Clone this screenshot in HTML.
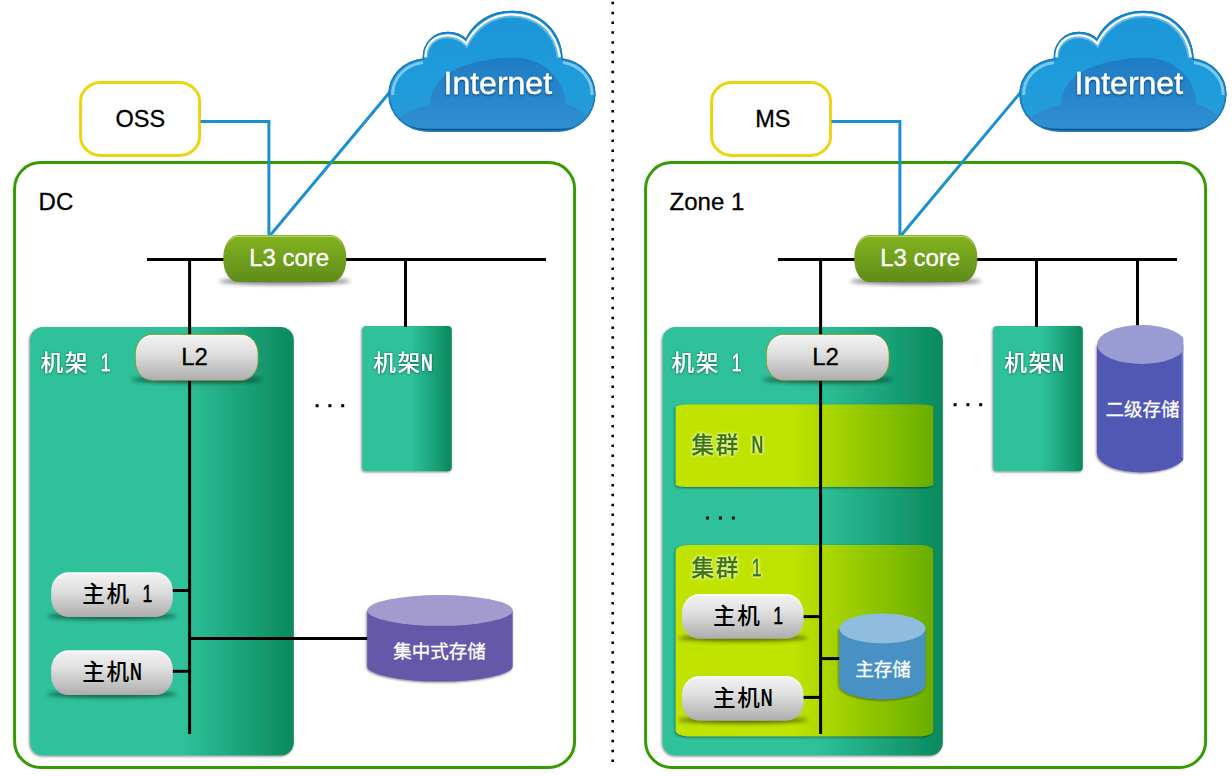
<!DOCTYPE html>
<html lang="zh-CN">
<head>
<meta charset="utf-8">
<title>DC / Zone network topology</title>
<style>
html,body{margin:0;padding:0;background:#fff;}
body{width:1232px;height:777px;overflow:hidden;font-family:"Liberation Sans", "Noto Sans CJK SC", sans-serif;}
svg{display:block;}
</style>
</head>
<body>
<svg width="1232" height="777" viewBox="0 0 1232 777">
<defs>
<filter id="b2" x="-20%" y="-200%" width="140%" height="500%"><feGaussianBlur stdDeviation="2.1"/></filter>
<filter id="b05" x="-10%" y="-10%" width="120%" height="120%"><feGaussianBlur stdDeviation="0.5"/></filter>
<filter id="ds" x="-5%" y="-5%" width="110%" height="110%"><feDropShadow dx="-0.8" dy="1" stdDeviation="1.1" flood-color="#1a0010" flood-opacity="0.5"/></filter>
<filter id="ts" x="-10%" y="-20%" width="120%" height="140%"><feDropShadow dx="0" dy="0.5" stdDeviation="1.2" flood-color="#044a32" flood-opacity="0.9"/></filter>
<filter id="tg" x="-10%" y="-25%" width="120%" height="150%"><feGaussianBlur in="SourceAlpha" stdDeviation="1.5" result="b"/><feFlood flood-color="#f3ffb4"/><feComposite in2="b" operator="in" result="g"/><feMerge><feMergeNode in="g"/><feMergeNode in="g"/><feMergeNode in="SourceGraphic"/></feMerge></filter>
<filter id="tc" x="-10%" y="-20%" width="120%" height="150%"><feDropShadow dx="0" dy="1.2" stdDeviation="1.1" flood-color="#062f55" flood-opacity="0.75"/></filter>
<linearGradient id="gL3" x1="0" y1="0" x2="0" y2="1"><stop offset="0" stop-color="#84b41f"/><stop offset="1" stop-color="#5e8c1b"/></linearGradient>
<linearGradient id="gL3hl" x1="0" y1="0" x2="0" y2="1"><stop offset="0" stop-color="#b4d868" stop-opacity="0.9"/><stop offset="0.25" stop-color="#b4d868" stop-opacity="0"/><stop offset="1" stop-color="#b4d868" stop-opacity="0"/></linearGradient>
<linearGradient id="gGrey" x1="0" y1="0" x2="0" y2="1"><stop offset="0" stop-color="#f3f3f3"/><stop offset="0.4" stop-color="#e0e0e0"/><stop offset="1" stop-color="#adadad"/></linearGradient>
<linearGradient id="gGreyhl" x1="0" y1="0" x2="0" y2="1"><stop offset="0" stop-color="#fff" stop-opacity="0.9"/><stop offset="0.3" stop-color="#fff" stop-opacity="0"/><stop offset="1" stop-color="#fff" stop-opacity="0"/></linearGradient>
<linearGradient id="gRackL" x1="0" y1="0" x2="1" y2="0"><stop offset="0" stop-color="#2ec19a"/><stop offset="0.58" stop-color="#2ec19a"/><stop offset="1" stop-color="#0b895d"/></linearGradient>
<linearGradient id="gRackR" x1="0" y1="0" x2="1" y2="0"><stop offset="0" stop-color="#2ec19a"/><stop offset="0.55" stop-color="#2ec19a"/><stop offset="1" stop-color="#0b895d"/></linearGradient>
<linearGradient id="gRackN" x1="0" y1="0" x2="1" y2="0"><stop offset="0" stop-color="#2ec19a"/><stop offset="0.55" stop-color="#2ec19a"/><stop offset="1" stop-color="#0b895d"/></linearGradient>
<linearGradient id="gClu" x1="0" y1="0" x2="1" y2="0"><stop offset="0" stop-color="#c0e400"/><stop offset="0.46" stop-color="#bfe300"/><stop offset="1" stop-color="#69ae00"/></linearGradient>
<linearGradient id="gCloud" x1="0" y1="0" x2="0" y2="1"><stop offset="0" stop-color="#1b96d8"/><stop offset="0.6" stop-color="#1f9cdb"/><stop offset="1" stop-color="#2a9bd8"/></linearGradient>
<linearGradient id="gCloudIn" gradientUnits="userSpaceOnUse" x1="0" y1="58" x2="0" y2="131"><stop offset="0" stop-color="#1f7cc5"/><stop offset="1" stop-color="#2f90d0"/></linearGradient>
<clipPath id="cloudClip"><path d="M429 131 C405 131 389 114 389 94 C389 76 403 61.5 423.5 59 C422.5 44 433 32.5 448 32.5 C455 32.5 461.5 35 466 39.5 C474 22 491 11.5 512 11.5 C540 11.5 561 31 562 59 C581 61.5 594.8 76 594.8 94 C594.8 114 579 131 558 131 Z"/></clipPath>
<clipPath id="clipSec"><rect x="1090" y="320" width="93.3" height="160"/></clipPath>
</defs>
<rect width="1232" height="777" fill="#fff"/>
<path d="M612.7 1.8 V762" stroke="#000" stroke-width="2.6" stroke-dasharray="2.5 7.34" fill="none"/>
<g id="left">
<rect x="14.6" y="162.6" width="560" height="604.8" rx="26" fill="#fff" stroke="#369a05" stroke-width="3"/>
<rect x="80.6" y="82.5" width="119" height="73" rx="20.5" ry="19" fill="#fff" stroke="#edd410" stroke-width="3"/>
<text x="140.3" y="127" font-size="23.5" text-anchor="middle" font-family='"Liberation Sans", "Noto Sans CJK SC", sans-serif' fill="#000" stroke="#000" stroke-width="0.3">OSS</text>
<path d="M200.5 121.5 H268.9 V238" fill="none" stroke="#1b90d0" stroke-width="3"/>
<path d="M269.2 236.5 L392 89.5" fill="none" stroke="#1b90d0" stroke-width="3"/>
<text x="38.6" y="209.5" font-size="24" font-family='"Liberation Sans", "Noto Sans CJK SC", sans-serif' fill="#000" stroke="#000" stroke-width="0.3">DC</text>
<rect x="30" y="327" width="263.8" height="428.6" rx="13" fill="url(#gRackL)" filter="url(#ds)"/>
<rect x="362.2" y="326" width="89.6" height="145.3" rx="4" fill="url(#gRackN)" filter="url(#ds)"/>
<path d="M147 259.5 H546" stroke="#000" stroke-width="3"/>
<path d="M189.6 330 V734" stroke="#fff" stroke-width="5.5" opacity="0.28" filter="url(#b05)"/>
<path d="M189.6 259.5 V734" stroke="#000" stroke-width="3"/>
<path d="M405.5 259.5 V327" stroke="#000" stroke-width="3"/>
<path d="M171.2 590.5 H189.6" stroke="#000" stroke-width="3"/>
<path d="M171.2 671.3 H189.6" stroke="#000" stroke-width="3"/>
<path d="M189.6 638.5 H370" stroke="#000" stroke-width="3"/>
<rect x="315.6" y="404.2" width="3" height="3" fill="#000"/>
<rect x="328.4" y="404.2" width="3" height="3" fill="#000"/>
<rect x="341.2" y="404.2" width="3" height="3" fill="#000"/>
<text font-size="22.6" font-weight="500" fill="#fff" font-family='"Liberation Sans", "Noto Sans CJK SC", sans-serif' filter="url(#ts)"><tspan x="40.60 64.80" y="371.3">机架 </tspan><tspan x="100.80" y="371.00" font-size="23.4" font-weight="normal" stroke="#fff" stroke-width="0.55" textLength="9.8" lengthAdjust="spacingAndGlyphs">1</tspan></text>
<text font-size="22.6" font-weight="500" fill="#fff" font-family='"Liberation Sans", "Noto Sans CJK SC", sans-serif' filter="url(#ts)"><tspan x="373.20 397.40" y="371.3">机架</tspan><tspan x="421.00" y="371.00" font-size="23.5" font-weight="bold" textLength="11.8" lengthAdjust="spacingAndGlyphs">N</tspan></text>
<ellipse cx="284.80" cy="281.30" rx="65.50" ry="3.2" fill="#000" opacity="0.55" filter="url(#b2)"/><rect x="223.30" y="235.10" width="123" height="47" rx="15" ry="22.00" fill="url(#gL3)"/><rect x="224.50" y="236.30" width="120.60" height="44.60" rx="13.8" ry="20.80" fill="none" stroke="url(#gL3hl)" stroke-width="1.2"/>
<text x="289.2" y="266.1" font-size="24" text-anchor="middle" font-family='"Liberation Sans", "Noto Sans CJK SC", sans-serif' fill="#fff" stroke="#fff" stroke-width="0.3">L3 core</text>
<ellipse cx="196.70" cy="379.80" rx="65.40" ry="3.2" fill="#000" opacity="0.55" filter="url(#b2)"/><rect x="135.30" y="334.40" width="122.8" height="46.2" rx="17" ry="19.40" fill="url(#gGrey)" stroke="#7f9418" stroke-width="1" stroke-opacity="0.8"/><rect x="136.50" y="335.60" width="120.40" height="43.80" rx="15.8" ry="18.20" fill="none" stroke="url(#gGreyhl)" stroke-width="1.2"/>
<text x="194.6" y="364.9" font-size="24" text-anchor="middle" font-family='"Liberation Sans", "Noto Sans CJK SC", sans-serif' fill="#000" stroke="#000" stroke-width="0.3">L2</text>
<ellipse cx="112.00" cy="616.20" rx="64.80" ry="3.2" fill="#000" opacity="0.55" filter="url(#b2)"/><rect x="51.20" y="572.20" width="121.6" height="44.8" rx="17" ry="18.82" fill="url(#gGrey)"/><rect x="52.40" y="573.40" width="119.20" height="42.40" rx="15.8" ry="17.62" fill="none" stroke="url(#gGreyhl)" stroke-width="1.2"/>
<text font-size="22.6" font-weight="500" fill="#000" font-family='"Liberation Sans", "Noto Sans CJK SC", sans-serif'><tspan x="82.20 106.40" y="602">主机 </tspan><tspan x="142.40" y="602.00" font-size="23.4" font-weight="normal" stroke="#000" stroke-width="0.55" textLength="9.8" lengthAdjust="spacingAndGlyphs">1</tspan></text>
<ellipse cx="112.00" cy="694.30" rx="64.80" ry="3.2" fill="#000" opacity="0.55" filter="url(#b2)"/><rect x="51.20" y="650.30" width="121.6" height="44.8" rx="17" ry="18.82" fill="url(#gGrey)"/><rect x="52.40" y="651.50" width="119.20" height="42.40" rx="15.8" ry="17.62" fill="none" stroke="url(#gGreyhl)" stroke-width="1.2"/>
<text font-size="22.6" font-weight="500" fill="#000" font-family='"Liberation Sans", "Noto Sans CJK SC", sans-serif'><tspan x="82.20 106.40" y="680">主机</tspan><tspan x="130.00" y="680.00" font-size="23.5" font-weight="bold" textLength="11.8" lengthAdjust="spacingAndGlyphs">N</tspan></text>
<path d="M367.2 610.4 V666.2 A72.75 15.4 0 0 0 512.7 666.2 V610.4 Z" fill="#6659a9" filter="url(#ds)"/><ellipse cx="439.95" cy="610.4" rx="72.75" ry="15.4" fill="#a39bcf"/>
<text x="439.6" y="657.8" font-size="18.5" text-anchor="middle" fill="#fff" stroke="#fff" stroke-width="0.3" font-family='"Liberation Sans", "Noto Sans CJK SC", sans-serif'>集中式存储</text>
<g transform="translate(0,0)"><path d="M429 131 C405 131 389 114 389 94 C389 76 403 61.5 423.5 59 C422.5 44 433 32.5 448 32.5 C455 32.5 461.5 35 466 39.5 C474 22 491 11.5 512 11.5 C540 11.5 561 31 562 59 C581 61.5 594.8 76 594.8 94 C594.8 114 579 131 558 131 Z" fill="url(#gCloud)" stroke="#1a7cc0" stroke-width="1.4"/>
<g clip-path="url(#cloudClip)">
<path d="M396 122 C404 113 415 107 429.2 105.6 C430 93 436 82 447 74.5 C463 63.5 489 57.8 515 57.8 C532 57.8 546 65 555.5 77 C562 85 565.4 94 565.5 104.5 C574 106.5 581 110 588 117 L592 135 H396 Z" fill="url(#gCloudIn)"/>
<path d="M392 112 C402 126.6 416 128.7 429 128.7 H558 C571 128.7 585 126.6 594 112 V136 H392 Z" fill="#135489" filter="url(#b05)"/>
<path d="M425.8 58 C425 44.5 435 36.2 448 36.2 C455 36.2 461 38.6 466.5 44.6 C475 27 492 15.2 512 15.2 C536 15.2 555.6 31 559.4 58" fill="none" stroke="#9fd6f5" stroke-width="4.4" opacity="0.55" filter="url(#b05)"/>
<path d="M425.4 57 C425 44 435 35.4 448 35.4 C455 35.4 461 37.8 466.3 43.6 C475 26 492 14.3 512 14.3 C536 14.3 556 30 559.8 57" fill="none" stroke="#fff" stroke-width="2.2" filter="url(#b05)"/>
<path d="M392.6 95 C392.6 78 405 65 423 62.6" fill="none" stroke="#8fd0f4" stroke-width="3" opacity="0.85" filter="url(#b05)"/>
<path d="M562.8 62.6 C580 65 592.2 78 592.2 95" fill="none" stroke="#8fd0f4" stroke-width="3" opacity="0.85" filter="url(#b05)"/>
</g>
<path d="M429 131 C405 131 389 114 389 94 C389 76 403 61.5 423.5 59 C422.5 44 433 32.5 448 32.5 C455 32.5 461.5 35 466 39.5 C474 22 491 11.5 512 11.5 C540 11.5 561 31 562 59 C581 61.5 594.8 76 594.8 94 C594.8 114 579 131 558 131 Z" fill="none" stroke="#1a7cc0" stroke-width="1.4"/></g>
<text x="497.8" y="94.2" font-size="32" text-anchor="middle" font-family='"Liberation Sans", "Noto Sans CJK SC", sans-serif' fill="#fff" stroke="#fff" stroke-width="0.35" filter="url(#tc)">Internet</text>
</g>
<g id="right">
<rect x="645.6" y="162.6" width="560" height="604.8" rx="26" fill="#fff" stroke="#369a05" stroke-width="3"/>
<rect x="711.6" y="82.5" width="119" height="73" rx="20.5" ry="19" fill="#fff" stroke="#edd410" stroke-width="3"/>
<text x="772.8" y="127" font-size="23.5" text-anchor="middle" font-family='"Liberation Sans", "Noto Sans CJK SC", sans-serif' fill="#000" stroke="#000" stroke-width="0.3">MS</text>
<path d="M831.5 121.5 H899.9 V238" fill="none" stroke="#1b90d0" stroke-width="3"/>
<path d="M900.2 236.5 L1023 89.5" fill="none" stroke="#1b90d0" stroke-width="3"/>
<text x="669.6" y="209.5" font-size="24" font-family='"Liberation Sans", "Noto Sans CJK SC", sans-serif' fill="#000" stroke="#000" stroke-width="0.3">Zone 1</text>
<rect x="662.5" y="327" width="280.3" height="428.6" rx="13" fill="url(#gRackR)" filter="url(#ds)"/>
<rect x="993.2" y="326" width="89.6" height="145.3" rx="4" fill="url(#gRackN)" filter="url(#ds)"/>
<rect x="675.8" y="404.4" width="257.4" height="82.7" rx="12" ry="2.6" fill="url(#gClu)" filter="url(#ds)"/>
<rect x="675.8" y="545" width="257.4" height="191.3" rx="12" ry="5.8" fill="url(#gClu)" filter="url(#ds)"/>
<path d="M778 259.5 H1177" stroke="#000" stroke-width="3"/>
<path d="M820.6 330 V734" stroke="#fff" stroke-width="5.5" opacity="0.28" filter="url(#b05)"/>
<path d="M820.6 259.5 V734" stroke="#000" stroke-width="3"/>
<path d="M1036.5 259.5 V327" stroke="#000" stroke-width="3"/>
<path d="M1137.5 259.5 V330" stroke="#000" stroke-width="3"/>
<path d="M802 616.6 H820.6" stroke="#000" stroke-width="3"/>
<path d="M802 697.4 H820.6" stroke="#000" stroke-width="3"/>
<path d="M820.6 658.6 H842" stroke="#000" stroke-width="3"/>
<rect x="953.6" y="403.2" width="3" height="3" fill="#000"/>
<rect x="966.4" y="403.2" width="3" height="3" fill="#000"/>
<rect x="979.2" y="403.2" width="3" height="3" fill="#000"/>
<rect x="706.0" y="516.5" width="3" height="3" fill="#000"/>
<rect x="718.9" y="516.5" width="3" height="3" fill="#000"/>
<rect x="731.8" y="516.5" width="3" height="3" fill="#000"/>
<text font-size="22.6" font-weight="500" fill="#fff" font-family='"Liberation Sans", "Noto Sans CJK SC", sans-serif' filter="url(#ts)"><tspan x="671.60 695.80" y="371.3">机架 </tspan><tspan x="731.80" y="371.00" font-size="23.4" font-weight="normal" stroke="#fff" stroke-width="0.55" textLength="9.8" lengthAdjust="spacingAndGlyphs">1</tspan></text>
<text font-size="22.6" font-weight="500" fill="#fff" font-family='"Liberation Sans", "Noto Sans CJK SC", sans-serif' filter="url(#ts)"><tspan x="1004.20 1028.40" y="371.3">机架</tspan><tspan x="1052.00" y="371.00" font-size="23.5" font-weight="bold" textLength="11.8" lengthAdjust="spacingAndGlyphs">N</tspan></text>
<text font-size="22.6" font-weight="500" fill="#3a760a" stroke="#3a760a" stroke-width="0.45" font-family='"Liberation Sans", "Noto Sans CJK SC", sans-serif' filter="url(#tg)"><tspan x="691.60 715.80" y="452.8">集群 </tspan><tspan x="751.40" y="453.00" font-size="23.5" font-weight="bold" textLength="11.8" lengthAdjust="spacingAndGlyphs">N</tspan></text>
<text font-size="22.6" font-weight="500" fill="#3a760a" stroke="#3a760a" stroke-width="0.45" font-family='"Liberation Sans", "Noto Sans CJK SC", sans-serif' filter="url(#tg)"><tspan x="691.60 715.80" y="575.8">集群 </tspan><tspan x="751.80" y="576.00" font-size="23.4" font-weight="normal" stroke="#3a760a" stroke-width="0.8" textLength="9.8" lengthAdjust="spacingAndGlyphs">1</tspan></text>
<ellipse cx="915.80" cy="281.30" rx="65.50" ry="3.2" fill="#000" opacity="0.55" filter="url(#b2)"/><rect x="854.30" y="235.10" width="123" height="47" rx="15" ry="22.00" fill="url(#gL3)"/><rect x="855.50" y="236.30" width="120.60" height="44.60" rx="13.8" ry="20.80" fill="none" stroke="url(#gL3hl)" stroke-width="1.2"/>
<text x="920.2" y="266.1" font-size="24" text-anchor="middle" font-family='"Liberation Sans", "Noto Sans CJK SC", sans-serif' fill="#fff" stroke="#fff" stroke-width="0.3">L3 core</text>
<ellipse cx="827.70" cy="379.80" rx="65.40" ry="3.2" fill="#000" opacity="0.55" filter="url(#b2)"/><rect x="766.30" y="334.40" width="122.8" height="46.2" rx="17" ry="19.40" fill="url(#gGrey)" stroke="#7f9418" stroke-width="1" stroke-opacity="0.8"/><rect x="767.50" y="335.60" width="120.40" height="43.80" rx="15.8" ry="18.20" fill="none" stroke="url(#gGreyhl)" stroke-width="1.2"/>
<text x="825.6" y="364.9" font-size="24" text-anchor="middle" font-family='"Liberation Sans", "Noto Sans CJK SC", sans-serif' fill="#000" stroke="#000" stroke-width="0.3">L2</text>
<ellipse cx="742.80" cy="638.00" rx="64.80" ry="3.2" fill="#000" opacity="0.55" filter="url(#b2)"/><rect x="682.00" y="594.00" width="121.6" height="44.8" rx="17" ry="18.82" fill="url(#gGrey)"/><rect x="683.20" y="595.20" width="119.20" height="42.40" rx="15.8" ry="17.62" fill="none" stroke="url(#gGreyhl)" stroke-width="1.2"/>
<text font-size="22.6" font-weight="500" fill="#000" font-family='"Liberation Sans", "Noto Sans CJK SC", sans-serif'><tspan x="713.00 737.20" y="624">主机 </tspan><tspan x="773.20" y="624.00" font-size="23.4" font-weight="normal" stroke="#000" stroke-width="0.55" textLength="9.8" lengthAdjust="spacingAndGlyphs">1</tspan></text>
<ellipse cx="742.80" cy="720.00" rx="64.80" ry="3.2" fill="#000" opacity="0.55" filter="url(#b2)"/><rect x="682.00" y="676.00" width="121.6" height="44.8" rx="17" ry="18.82" fill="url(#gGrey)"/><rect x="683.20" y="677.20" width="119.20" height="42.40" rx="15.8" ry="17.62" fill="none" stroke="url(#gGreyhl)" stroke-width="1.2"/>
<text font-size="22.6" font-weight="500" fill="#000" font-family='"Liberation Sans", "Noto Sans CJK SC", sans-serif'><tspan x="713.00 737.20" y="706">主机</tspan><tspan x="760.80" y="706.00" font-size="23.5" font-weight="bold" textLength="11.8" lengthAdjust="spacingAndGlyphs">N</tspan></text>
<path d="M839.3 628.4 V684.4 A43.1 15 0 0 0 925.5 684.4 V628.4 Z" fill="#4691c4" filter="url(#ds)"/><ellipse cx="882.4" cy="628.4" rx="43.1" ry="15" fill="#90bcdd"/>
<text x="883" y="676.3" font-size="18.5" text-anchor="middle" fill="#fff" stroke="#fff" stroke-width="0.3" font-family='"Liberation Sans", "Noto Sans CJK SC", sans-serif'>主存储</text>
<g clip-path="url(#clipSec)"><path d="M1097 344.5 V453.1 A44.5 19.5 0 0 0 1186 453.1 V344.5 Z" fill="#5159b3" filter="url(#ds)"/><ellipse cx="1141.5" cy="344.5" rx="44.5" ry="19.5" fill="#989cd3"/><rect x="1181.4" y="338" width="2" height="120" fill="#8f95d6" opacity="0.55"/></g>
<text x="1142.5" y="416.3" font-size="18.5" text-anchor="middle" fill="#fff" stroke="#fff" stroke-width="0.3" font-family='"Liberation Sans", "Noto Sans CJK SC", sans-serif'>二级存储</text>
<g transform="translate(631,0)"><path d="M429 131 C405 131 389 114 389 94 C389 76 403 61.5 423.5 59 C422.5 44 433 32.5 448 32.5 C455 32.5 461.5 35 466 39.5 C474 22 491 11.5 512 11.5 C540 11.5 561 31 562 59 C581 61.5 594.8 76 594.8 94 C594.8 114 579 131 558 131 Z" fill="url(#gCloud)" stroke="#1a7cc0" stroke-width="1.4"/>
<g clip-path="url(#cloudClip)">
<path d="M396 122 C404 113 415 107 429.2 105.6 C430 93 436 82 447 74.5 C463 63.5 489 57.8 515 57.8 C532 57.8 546 65 555.5 77 C562 85 565.4 94 565.5 104.5 C574 106.5 581 110 588 117 L592 135 H396 Z" fill="url(#gCloudIn)"/>
<path d="M392 112 C402 126.6 416 128.7 429 128.7 H558 C571 128.7 585 126.6 594 112 V136 H392 Z" fill="#135489" filter="url(#b05)"/>
<path d="M425.8 58 C425 44.5 435 36.2 448 36.2 C455 36.2 461 38.6 466.5 44.6 C475 27 492 15.2 512 15.2 C536 15.2 555.6 31 559.4 58" fill="none" stroke="#9fd6f5" stroke-width="4.4" opacity="0.55" filter="url(#b05)"/>
<path d="M425.4 57 C425 44 435 35.4 448 35.4 C455 35.4 461 37.8 466.3 43.6 C475 26 492 14.3 512 14.3 C536 14.3 556 30 559.8 57" fill="none" stroke="#fff" stroke-width="2.2" filter="url(#b05)"/>
<path d="M392.6 95 C392.6 78 405 65 423 62.6" fill="none" stroke="#8fd0f4" stroke-width="3" opacity="0.85" filter="url(#b05)"/>
<path d="M562.8 62.6 C580 65 592.2 78 592.2 95" fill="none" stroke="#8fd0f4" stroke-width="3" opacity="0.85" filter="url(#b05)"/>
</g>
<path d="M429 131 C405 131 389 114 389 94 C389 76 403 61.5 423.5 59 C422.5 44 433 32.5 448 32.5 C455 32.5 461.5 35 466 39.5 C474 22 491 11.5 512 11.5 C540 11.5 561 31 562 59 C581 61.5 594.8 76 594.8 94 C594.8 114 579 131 558 131 Z" fill="none" stroke="#1a7cc0" stroke-width="1.4"/></g>
<text x="1128.8" y="94.2" font-size="32" text-anchor="middle" font-family='"Liberation Sans", "Noto Sans CJK SC", sans-serif' fill="#fff" stroke="#fff" stroke-width="0.35" filter="url(#tc)">Internet</text>
</g>
</svg>
</body>
</html>
